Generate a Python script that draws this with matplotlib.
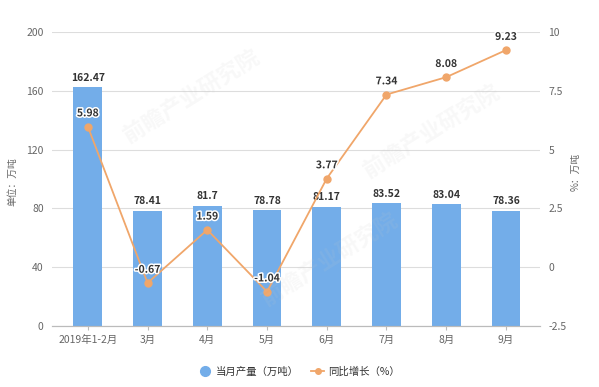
import matplotlib
matplotlib.use("Agg")
from matplotlib import pyplot as plt
from matplotlib.lines import Line2D
import matplotlib.patheffects as pe
import numpy as np

plt.rcParams['font.family'] = ['Noto Sans CJK SC', 'DejaVu Sans']

months = ["2019年1-2月", "3月", "4月", "5月", "6月", "7月", "8月", "9月"]
output = [162.47, 78.41, 81.7, 78.78, 81.17, 83.52, 83.04, 78.36]
growth = [5.98, -0.67, 1.59, -1.04, 3.77, 7.34, 8.08, 9.23]

bar_color = "#73ade9"
line_color = "#f0a66a"
tick_color = "#666666"
label_color = "#333333"

fig = plt.figure(figsize=(5.99, 3.87), dpi=100)
ax = fig.add_axes([0.0868, 0.1576, 0.8147, 0.7597])
ax2 = ax.twinx()

x = np.arange(len(months))

ax.bar(x, output, width=0.48, color=bar_color, zorder=2)
ax.set_ylim(0, 200)
ax.set_yticks([0, 40, 80, 120, 160, 200])
ax.set_xlim(-0.6, 7.57)
ax.set_xticks(x)
ax.set_xticklabels(months)
ax.grid(axis="y", color="#dddddd", linewidth=0.8, zorder=0)
ax.set_axisbelow(True)

for xi, v in zip(x, output):
    ax.text(xi, v + 3, f"{v:g}", ha="center", va="bottom", fontsize=7.5,
            color=label_color, fontweight="bold", zorder=5)

ax2.plot(x, growth, color=line_color, linewidth=1.3, marker="o", markersize=5, zorder=4)
ax2.set_ylim(-2.5, 10)
ax2.set_yticks([-2.5, 0, 2.5, 5, 7.5, 10])
ax2.set_yticklabels(["-2.5", "0", "2.5", "5", "7.5", "10"])

for xi, v in zip(x, growth):
    ax2.text(xi, v + 0.35, f"{v:g}", ha="center", va="bottom", fontsize=7.5,
             color=label_color, fontweight="bold", zorder=6,
             path_effects=[pe.withStroke(linewidth=2.2, foreground="white")])

for a in (ax, ax2):
    for s in ("top", "left", "right"):
        a.spines[s].set_visible(False)
    a.spines["bottom"].set_color("#bbbbbb")
    a.tick_params(axis="y", length=0, labelsize=7.5, colors=tick_color, pad=6)
ax.tick_params(axis="x", length=3, color="#bbbbbb", labelsize=7.5, labelcolor=tick_color)
ax2.tick_params(axis="y", pad=6)

fig.text(0.02, 0.53, "单位：万吨", rotation=90, ha="center", va="center",
         fontsize=7, color=tick_color)
fig.text(0.96, 0.555, "%：万吨", rotation=90, ha="center", va="center",
         fontsize=7, color=tick_color)

# faint watermarks
for wx, wy in [(0.32, 0.75), (0.72, 0.66), (0.55, 0.33)]:
    fig.text(wx, wy, "前瞻产业研究院", rotation=32, ha="center", va="center",
             fontsize=16, color="#c8c8c8", alpha=0.12, fontweight="bold", zorder=0)

handles = [
    Line2D([], [], linestyle="none", marker="o", markersize=7, color=bar_color),
    Line2D([], [], color=line_color, marker="o", markersize=4, linewidth=1.3),
]
fig.legend(handles, ["当月产量（万吨）", "同比增长（%）"], loc="center",
           bbox_to_anchor=(0.5, 0.04), ncol=2, frameon=False, fontsize=7.5,
           handlelength=1.2, handletextpad=0.4, columnspacing=1.2,
           labelcolor="#333333")

fig.savefig("out.png", dpi=100)
